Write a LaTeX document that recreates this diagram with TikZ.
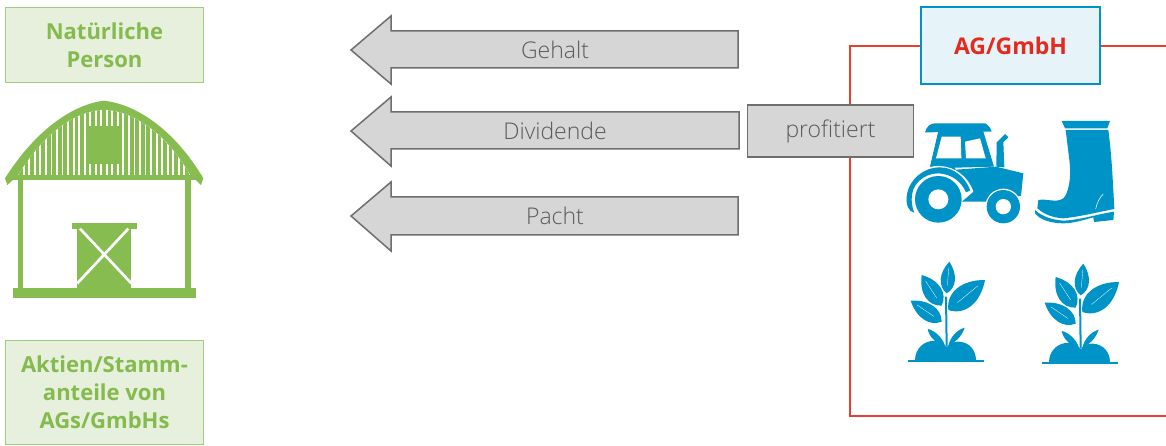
\documentclass[tikz,border=0pt]{standalone}
\usepackage{fontspec}
\setmainfont{Open Sans}
\newfontfamily\lightfont{Open Sans Light}
\usetikzlibrary{calc}
\definecolor{ublue}{HTML}{0093C8}
\definecolor{agfill}{HTML}{E6F4FA}
\definecolor{agred}{HTML}{E42A1C}
\definecolor{lred}{HTML}{E8402F}
\definecolor{ugreen}{HTML}{86BC50}
\definecolor{gfill}{HTML}{E6F0DC}
\definecolor{gline}{HTML}{A3CB7D}
\definecolor{gtext}{HTML}{85BB4E}
\definecolor{afill}{HTML}{D6D6D6}
\definecolor{aline}{HTML}{6E6E6E}
\definecolor{atext}{HTML}{5A5A5A}
\tikzset{
  greenbox/.style={draw=gline,fill=gfill,line width=1.4pt,text=gtext,font=\fontsize{22}{28}\selectfont\bfseries,align=center,inner sep=0pt,minimum width=198.5pt,anchor=center},
  flowarrow/.style={draw=aline,fill=afill,line width=1.5pt,line join=miter},
  arrowlabel/.style={text=atext,font=\fontsize{23}{26}\selectfont\lightfont,inner sep=0pt},
  redline/.style={draw=lred,line width=1.3pt},
  zoomed/.style={x=0.33333pt,y=-0.33333pt},
}
\newcommand{\plantleaf}[3]{%
  \fill[ublue] (#1) .. controls ($(#1)!.2!(#2)!#3pt!90:(#2)$) and ($(#1)!.62!(#2)!#3pt!90:(#2)$) .. (#2)
   .. controls ($(#1)!.62!(#2)!#3pt!-90:(#2)$) and ($(#1)!.2!(#2)!#3pt!-90:(#2)$) .. (#1) -- cycle;
  \draw[white,line width=.3pt] ($(#1)!.25!(#2)$) -- ($(#1)!.8!(#2)$);}
\newcommand{\plantshape}{%
  \plantleaf{170,130}{178,35}{9.5}
  \plantleaf{155,167}{95,75}{12}
  \plantleaf{175,180}{285,90}{15}
  \plantleaf{155,215}{62,152}{11}
  \fill[ublue] (165,287) .. controls (155,258) and (130,240) .. (113,237) .. controls (118,262) and (138,280) .. (165,287) -- cycle;
  \fill[ublue] (175,287) .. controls (195,278) and (215,260) .. (224,233) .. controls (200,240) and (182,260) .. (175,287) -- cycle;
  \draw[ublue,line width=2pt] (168,140) -- (170,290);
  \fill[ublue] (75,332) .. controls (75,292) and (105,272) .. (135,272) .. controls (150,272) and (163,282) .. (170,292)
     .. controls (178,282) and (192,273) .. (207,275) .. controls (238,277) and (258,300) .. (258,332) -- cycle;
  \draw[ublue,line width=1.2pt] (55,333) -- (282,333);}
\begin{document}
\begin{tikzpicture}[x=1pt,y=-1pt]
\useasboundingbox (0,0) rectangle (1166,446);
% green boxes
\node[greenbox,minimum height=75.5pt] (person) at (104.5,45) {Natürliche\\Person};
\node[greenbox,minimum height=104.5pt] (aktien) at (104.5,392.5) {Aktien/Stamm-\\anteile von\\AGs/GmbHs};
% barn
\begin{scope}[shift={(0,90)},zoomed]
  \fill[ugreen] (15,265) .. controls (100,130) and (210,45) .. (312,32) .. controls (420,45) and (530,130) .. (610,265) -- (603,285) -- (572,255) -- (55,255) -- (22,285) -- cycle;
  \fill[white] (55,255) .. controls (130,130) and (230,60) .. (312,60) .. controls (395,60) and (500,130) .. (570,255) -- cycle;
  \begin{scope}
    \clip (55,255) .. controls (130,130) and (230,60) .. (312,60) .. controls (395,60) and (500,130) .. (570,255) -- cycle;
    \foreach \sx in {-15,...,15}{\fill[ugreen] ({312+\sx*16.6-5.5},50) rectangle ({312+\sx*16.6+5.5},260);}
  \end{scope}
  \fill[ugreen] (265,108) rectangle (360,222);
  \fill[ugreen] (20,255) rectangle (605,270);
  \fill[ugreen] (55,260) rectangle (70,600);
  \fill[ugreen] (555,260) rectangle (572,600);
  \fill[ugreen] (38,593) rectangle (588,625);
  \fill[ugreen] (216,399) rectangle (411,416);
  \fill[ugreen] (232,416) rectangle (394,595);
  \draw[white,line width=2.7pt] (240,416) -- (394,580);
  \draw[white,line width=2.7pt] (385,416) -- (232,580);
\end{scope}
% arrows
\draw[flowarrow] (351,50) -- (391,16) -- (391,31) -- (738,31) -- (738,68) -- (391,68) -- (391,84) -- cycle;
\draw[flowarrow] (351,131) -- (391,97) -- (391,112) -- (739,112) -- (739,149) -- (391,149) -- (391,166) -- cycle;
\draw[flowarrow] (351,216) -- (391,182) -- (391,197) -- (738,197) -- (738,235) -- (391,235) -- (391,251) -- cycle;
\node[arrowlabel] (gehalt) at (555,50) {Gehalt};
\node[arrowlabel] (dividende) at (555,131) {Dividende};
\node[arrowlabel] (pacht) at (555,216) {Pacht};
% red frame and boxes
\node[draw=ublue,fill=agfill,line width=1.6pt,minimum width=178.5pt,minimum height=76.5pt,inner sep=0pt,text=agred,font=\fontsize{23}{26}\selectfont\bfseries] (ag) at (1010.5,45.5) {AG/GmbH};
\node[draw=aline,fill=afill,line width=1.8pt,minimum width=166pt,minimum height=51.5pt,inner sep=0pt,text=atext,font=\fontsize{23}{26}\selectfont\lightfont] (profit) at (830.5,131) {profitiert};
\coordinate (tr) at (1166,46);
\coordinate (br) at (1166,416);
\coordinate (bl) at (850,416);
\draw[redline] (ag.west |- tr) -| (profit.north -| bl);
\draw[redline] (profit.south -| bl) -- (bl) -- (br);
\draw[redline] (ag.east |- tr) -- (tr);
% tractor
\begin{scope}[shift={(890,105)},zoomed]
  \fill[ublue] (105,82) .. controls (110,65) and (120,55) .. (135,55) -- (285,55) .. controls (295,60) and (303,70) .. (305,80) -- cycle;
  \fill[ublue] (145,80) -- (120,185) -- (120,200) -- (318,185) -- (400,205) -- (393,272) -- (300,290) -- (215,290) -- (200,200) -- cycle;
  \fill[ublue] (145,80) -- (280,80) -- (312,185) -- (120,190) -- cycle;
  \fill[white] (155,95) -- (212,95) -- (214,160) -- (138,160) -- cycle;
  \fill[white] (225,110) -- (270,100) -- (287,160) -- (228,160) -- cycle;
  \fill[ublue] (319,185) -- (320,112) -- (345,87) -- (355,97) -- (340,112) -- (343,187) -- cycle;
  % fender
  \fill[white] (45,285) .. controls (50,220) and (100,180) .. (150,183) .. controls (195,185) and (235,215) .. (250,260) -- (215,290) -- (60,330) -- cycle;
  \fill[ublue] (73,323) .. controls (55,320) and (48,300) .. (50,275) .. controls (55,225) and (100,187) .. (150,187) .. controls (190,187) and (225,215) .. (241,256) -- (228,262) .. controls (212,225) and (180,207) .. (145,205) .. controls (100,205) and (62,240) .. (65,285) .. controls (66,300) and (68,312) .. (73,323) -- cycle;
  \fill[ublue] (145,283) circle (70);
  \fill[white] (145,283) circle (30);
  \fill[white] (340,305) circle (54);
  \fill[ublue] (340,305) circle (50);
  \fill[white] (340,305) circle (23);
  % boot
  \fill[ublue] (515,48) -- (660,48) -- (652,70) -- (525,70) -- cycle;
  \fill[ublue] (527,75) -- (655,75) .. controls (662,130) and (665,170) .. (668,220) -- (673,312) .. controls (620,322) and (570,335) .. (520,340) .. controls (490,338) and (465,330) .. (442,310) -- (445,285) .. controls (470,280) and (500,295) .. (520,280) .. controls (535,265) and (545,220) .. (538,165) -- cycle;
  \draw[white,line width=.5pt] (617,312) .. controls (620,295) and (630,275) .. (640,267);
  \fill[ublue] (435,315) .. controls (455,335) and (490,345) .. (520,347) .. controls (570,345) and (620,328) .. (672,320) -- (670,345) -- (612,351) -- (610,337) .. controls (580,345) and (550,355) .. (520,355) .. controls (485,355) and (450,345) .. (435,325) -- cycle;
\end{scope}
% plants
\begin{scope}[shift={(890,250)},zoomed]\plantshape\end{scope}
\begin{scope}[shift={(1024,252)},zoomed]\plantshape\end{scope}
\end{tikzpicture}
\end{document}
